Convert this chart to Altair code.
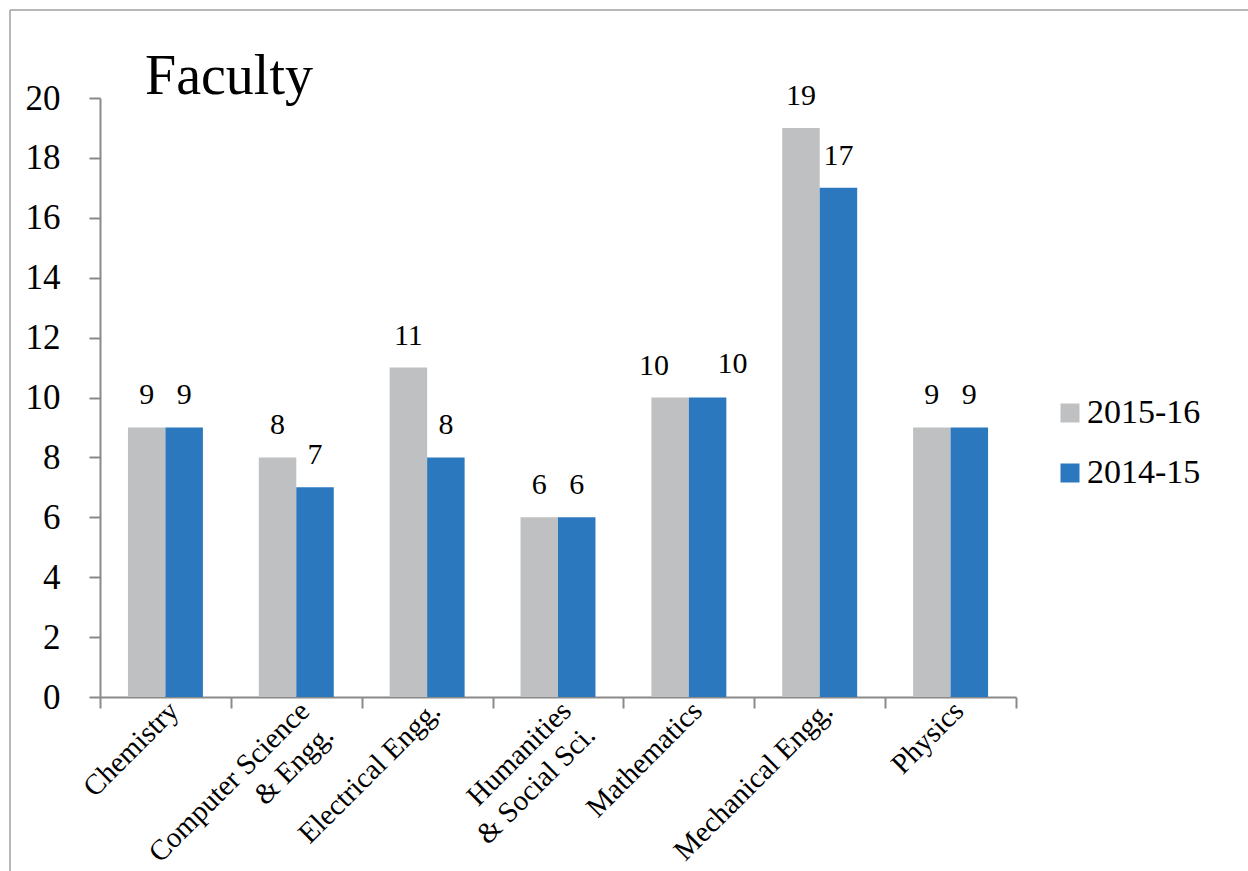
import altair as alt
import pandas as pd

NB = "\u00a0"
departments = ["Chemistry", "Computer Science\n& Engg." + NB * 8, "Electrical Engg.",
               "Humanities" + NB + "\n& Social Sci.", "Mathematics", "Mechanical Engg.", "Physics"]
years = ["2015-16", "2014-15"]
faculty_2015_16 = [9, 8, 11, 6, 10, 19, 9]
faculty_2014_15 = [9, 7, 8, 6, 10, 17, 9]
colors = ["#BFC0C2", "#2B78BE"]
y_ticks = [0, 2, 4, 6, 8, 10, 12, 14, 16, 18, 20]

rows = []
for d, a, b in zip(departments, faculty_2015_16, faculty_2014_15):
    rows.append({"Department": d, "Year": years[0], "Faculty": a})
    rows.append({"Department": d, "Year": years[1], "Faculty": b})
df = pd.DataFrame(rows)

FONT = "Liberation Serif"
AXIS_GRAY = "#8a8a8a"
FRAME_GRAY = "#a0a0a0"

x = alt.X("Department:N", sort=departments,
          scale=alt.Scale(paddingInner=0, paddingOuter=0),
          axis=alt.Axis(title=None, labelAngle=-45, labelAlign="right", labelBaseline="top",
                        labelExpr="split(datum.label, '\\n')", tickBand="extent",
                        labelFont=FONT, labelFontSize=29, labelColor="black",
                        labelPadding=-12, labelOffset=-2, labelLineHeight=34, labelLimit=600,
                        domainColor=AXIS_GRAY, domainWidth=2, tickColor=AXIS_GRAY,
                        tickWidth=2, tickSize=11, labelOverlap=False))
xoff = alt.XOffset("Year:N", sort=years, scale=alt.Scale(paddingOuter=0.746, paddingInner=0))
y = alt.Y("Faculty:Q", scale=alt.Scale(domain=[0, 20], nice=False),
          axis=alt.Axis(title=None, values=y_ticks, grid=False, labelFont=FONT,
                        labelFontSize=35, labelColor="black", labelPadding=29,
                        domainColor=AXIS_GRAY, domainWidth=2, tickColor=AXIS_GRAY,
                        tickWidth=2, tickSize=11))
color = alt.Color("Year:N", sort=years, scale=alt.Scale(domain=years, range=colors),
                  legend=alt.Legend(title=None, orient="none", legendX=953, legendY=298,
                                    symbolType="square", symbolSize=361, symbolStrokeWidth=0,
                                    labelFont=FONT, labelFontSize=34, labelColor="black",
                                    rowPadding=26, labelOffset=0))

bars = alt.Chart(df).mark_bar().encode(x=x, xOffset=xoff, y=y, color=color)

text_style = dict(baseline="alphabetic", fontSize=30, font=FONT, color="black")
enc = dict(x=x, xOffset=xoff, y=y, text="Faculty:Q")
crowded = "Mathematics"
labels_main = alt.Chart(df).transform_filter(
    alt.datum.Department != crowded).mark_text(dy=-23, **text_style).encode(**enc)
labels_left = alt.Chart(df).transform_filter(
    (alt.datum.Department == crowded) & (alt.datum.Year == years[0])
).mark_text(dy=-23, dx=-16, **text_style).encode(**enc)
labels_right = alt.Chart(df).transform_filter(
    (alt.datum.Department == crowded) & (alt.datum.Year == years[1])
).mark_text(dy=-25, dx=25, **text_style).encode(**enc)

one = pd.DataFrame({"k": [0]})
frame_left = alt.Chart(one).mark_rule(color=FRAME_GRAY, strokeWidth=1.5).encode(
    x=alt.value(-90), y=alt.value(-88), y2=alt.value(773))
frame_top = alt.Chart(one).mark_rule(color=FRAME_GRAY, strokeWidth=1.5).encode(
    x=alt.value(-90), x2=alt.value(1148), y=alt.value(-88))

chart = (frame_left + frame_top + bars + labels_main + labels_left + labels_right).properties(
    width=916, height=599,
    autosize=alt.AutoSizeParams(type="none"),
    padding={"left": 100, "top": 98, "right": 232, "bottom": 174},
    title=alt.TitleParams("Faculty", anchor="start", frame="group", font=FONT, fontSize=56,
                          fontWeight="normal", color="black", dx=45, dy=141, offset=0,
                          baseline="alphabetic"),
).configure_view(stroke=None)

chart.save("out.html", embed_options={"renderer": "svg", "actions": False})
